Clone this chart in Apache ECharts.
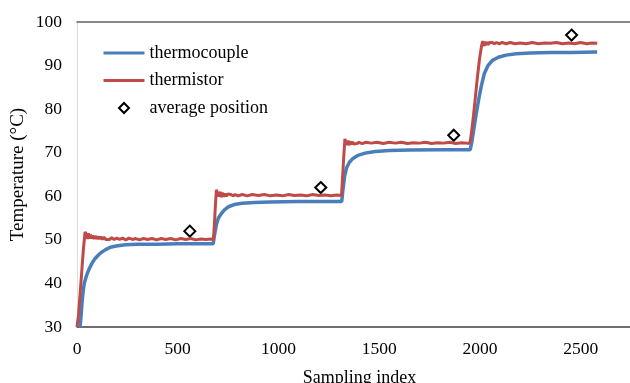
<!DOCTYPE html>
<html>
<head>
<meta charset="utf-8">
<script src="https://cdn.jsdelivr.net/npm/echarts@6/dist/echarts.min.js"></script>
<style>html,body{margin:0;padding:0;background:#fff}#c{width:630px;height:383px}</style>
</head>
<body>
<div id="c"></div>
<script>
// ---- data ----
const xTicks = [0, 500, 1000, 1500, 2000, 2500];
const yTicks = [30, 40, 50, 60, 70, 80, 90, 100];

const thermocoupleIdx = [15,20,25,30,36,44,52,62,74,88,104,120,140,165,195,240,300,400,500,600,676,
  684,692,702,716,732,752,780,820,880,960,1100,1200,1314,
  1320,1328,1338,1352,1370,1395,1430,1480,1550,1650,1800,1952,
  1960,1970,1982,1995,2008,2022,2040,2062,2092,2130,2180,2250,2350,2450,2582];
const thermocoupleVal = [30,32.5,35.5,38,40,41.3,42.4,43.5,44.6,45.6,46.4,47.1,47.7,48.3,48.6,48.9,49.0,49.0,49.1,49.1,49.1,
  51.5,53.5,55,56,56.9,57.6,58.1,58.4,58.6,58.7,58.8,58.8,58.8,
  61.5,64.5,66.5,67.8,68.7,69.4,69.9,70.3,70.5,70.6,70.7,70.7,
  72.5,75.5,79,82.5,85.5,88.2,90,91.2,91.9,92.4,92.7,92.9,93.0,93.0,93.1];

const thermistorIdx = [0,8,16,24,32,40,44,48,52,57,62,67,72,78,84,90,97,104,111,118,126,134,143,152,162,172,185,198,212,226,242,258,275,292,310,330,350,372,395,418,440,465,490,515,540,565,590,615,640,662,677,
  682,687,692,697,702,707,712,717,722,728,734,741,748,756,764,774,785,800,820,845,870,900,930,960,990,1020,1050,1080,1110,1140,1170,1200,1230,1260,1290,1313,
  1318,1324,1330,1334,1338,1342,1346,1350,1355,1360,1366,1373,1380,1390,1400,1415,1435,1460,1490,1520,1550,1580,1610,1640,1670,1700,1730,1760,1790,1820,1850,1880,1910,1935,1950,
  1958,1968,1978,1988,1998,2008,2014,2018,2022,2026,2030,2035,2041,2047,2054,2062,2072,2083,2096,2110,2130,2150,2175,2200,2230,2260,2290,2320,2350,2380,2410,2440,2470,2500,2530,2555,2582];
const thermistorVal = [30,33,38,43,48,51.8,52.1,51.2,50.2,51.5,50.3,51.2,50.3,51.0,50.2,50.9,50.2,50.8,50.2,50.7,50.1,50.6,50.1,50.5,50.1,50.5,50.1,50.4,50.1,50.4,50.0,50.4,50.1,50.3,50.0,50.3,50.1,50.3,50.0,50.3,50.1,50.3,50.0,50.3,50.1,50.3,50.0,50.2,50.1,50.2,50.1,
  53.5,58,61.5,61.6,60.0,59.6,61.0,59.8,60.8,59.9,60.6,60.0,60.5,60.1,60.4,60.1,60.4,60.1,60.4,60.1,60.4,60.2,60.4,60.1,60.3,60.1,60.4,60.2,60.3,60.1,60.4,60.2,60.3,60.1,60.3,60.2,
  64,69,73.2,73.3,71.8,71.5,72.8,71.7,72.6,71.9,72.5,72.0,72.4,72.1,72.4,72.1,72.4,72.2,72.4,72.1,72.4,72.2,72.4,72.1,72.3,72.2,72.4,72.1,72.3,72.2,72.4,72.1,72.3,72.2,72.2,
  74.5,78.5,83,87.5,91.5,94.5,95.6,95.6,94.5,95.5,94.7,95.4,94.8,95.3,94.9,95.3,95.0,95.3,95.0,95.3,95.0,95.3,95.0,95.2,95.0,95.3,95.0,95.2,95.1,95.3,95.0,95.2,95.0,95.3,95.0,95.2,95.1];

const averageIdx = [560, 1210, 1870, 2455];
const averageVal = [52, 62, 74, 97];

const seriesNames = ['thermocouple', 'thermistor', 'average position'];

// ---- build ----
const zip = (a, b) => a.map((v, i) => [v, b[i]]);
const FONT = 'Liberation Serif';
const BLUE = '#4a7ebb', RED = '#be4b48';

const chart = echarts.init(document.getElementById('c'), null, {renderer: 'canvas', width: 630, height: 383});
chart.setOption({
  animation: false,
  backgroundColor: '#fff',
  textStyle: {fontFamily: FONT, color: '#000'},
  grid: {left: 77, right: 0, top: 22, bottom: 56, containLabel: false, outerBoundsMode: 'none'},
  legend: {
    orient: 'vertical', left: 102, top: 44, padding: 0,
    itemWidth: 41, itemHeight: 10, itemGap: 9.5,
    symbolKeepAspect: true,
    lineStyle: {width: 3},
    textStyle: {fontFamily: FONT, fontSize: 18, color: '#000'},
    data: [
      {name: seriesNames[0]},
      {name: seriesNames[1]},
      {name: seriesNames[2], icon: 'path://M5,0L10,5L5,10L0,5Z'}
    ]
  },
  xAxis: [{
    type: 'value', min: xTicks[0], max: 2745, interval: 500,
    name: 'Sampling index', nameLocation: 'middle', nameGap: 42, nameMoveOverlap: false,
    nameTextStyle: {fontFamily: FONT, fontSize: 18, color: '#000', padding: [0, 0, 0, 12]},
    axisLine: {show: true, lineStyle: {color: '#404040', width: 1.5}},
    axisTick: {show: false},
    splitLine: {show: false},
    axisLabel: {fontFamily: FONT, fontSize: 17.5, color: '#000', margin: 13, showMaxLabel: false,
      formatter: v => String(v)}
  }, {
    type: 'value', position: 'top', min: xTicks[0], max: 2745,
    axisLine: {show: true, onZero: false, lineStyle: {color: '#606060', width: 1.5}},
    axisTick: {show: false}, axisLabel: {show: false}, splitLine: {show: false}
  }],
  yAxis: {
    type: 'value', min: yTicks[0], max: yTicks[yTicks.length - 1], interval: 10,
    name: 'Temperature (°C)', nameLocation: 'middle', nameGap: 49, nameMoveOverlap: false,
    nameTextStyle: {fontFamily: FONT, fontSize: 19, color: '#000'},
    axisLine: {show: true, lineStyle: {color: '#e2ddd2', width: 1}},
    axisTick: {show: false},
    splitLine: {show: false},
    axisLabel: {fontFamily: FONT, fontSize: 17.5, color: '#000', margin: 15, formatter: v => String(v)}
  },
  series: [
    {
      name: seriesNames[0], type: 'line', data: zip(thermocoupleIdx, thermocoupleVal),
      symbol: 'none', showSymbol: false,
      lineStyle: {color: BLUE, width: 3.5}, itemStyle: {color: 'rgba(0,0,0,0)'}
    },
    {
      name: seriesNames[1], type: 'line', data: zip(thermistorIdx, thermistorVal),
      symbol: 'none', showSymbol: false,
      lineStyle: {color: RED, width: 3}, itemStyle: {color: 'rgba(0,0,0,0)'}
    },
    {
      name: seriesNames[2], type: 'scatter', data: zip(averageIdx, averageVal),
      symbol: 'diamond', symbolSize: 11,
      itemStyle: {color: '#fff', borderColor: '#000', borderWidth: 2, opacity: 1}
    }
  ]
});
</script>
</body>
</html>
